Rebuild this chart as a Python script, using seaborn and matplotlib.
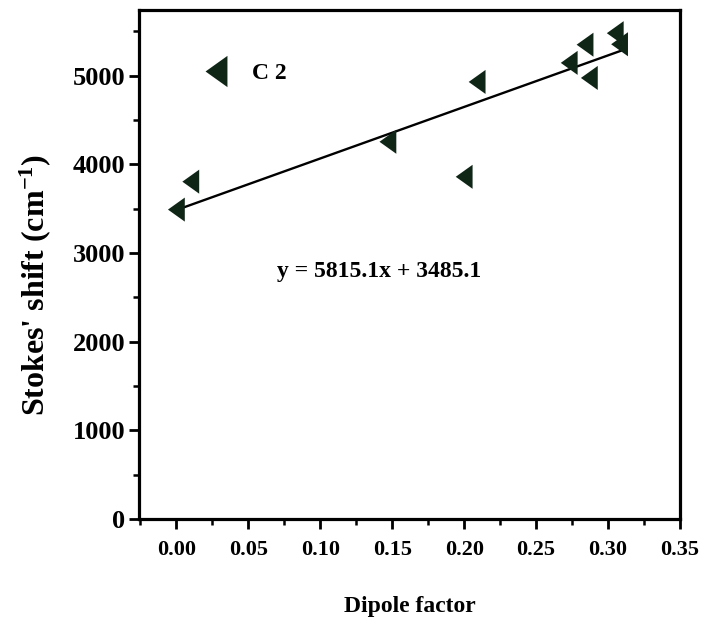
import numpy as np
import pandas as pd
import matplotlib
matplotlib.use("Agg")
import matplotlib.pyplot as plt
from matplotlib.ticker import MultipleLocator
import seaborn as sns

# Stokes' shift against solvent dipole factor for C2
dipole_factor = [0.000, 0.010, 0.147, 0.200, 0.209, 0.273, 0.284, 0.287, 0.305, 0.308]
stokes_shift = [3490, 3805, 4255, 3860, 4930, 5145, 5350, 4975, 5480, 5355]
series_name = "C 2"

# Linear fit reported on the chart
slope = 5815.1
intercept = 3485.1
fit_label = "y = 5815.1x + 3485.1"

x_ticks = [0.00, 0.05, 0.10, 0.15, 0.20, 0.25, 0.30, 0.35]
y_ticks = [0, 1000, 2000, 3000, 4000, 5000]

sns.set_style("ticks")
plt.rcParams["font.family"] = ["Liberation Serif", "DejaVu Serif"]
plt.rcParams["font.weight"] = "bold"
plt.rcParams["text.color"] = "black"
plt.rcParams["axes.labelcolor"] = "black"
plt.rcParams["xtick.color"] = "black"
plt.rcParams["ytick.color"] = "black"
plt.rcParams["mathtext.fontset"] = "custom"
plt.rcParams["mathtext.rm"] = "Liberation Serif:bold"
plt.rcParams["mathtext.it"] = "Liberation Serif:bold"
plt.rcParams["mathtext.bf"] = "Liberation Serif:bold"

mark_color = "#0f2616"
# narrow left-pointing triangle
tri = [(-0.35, 0.0), (0.35, 0.5), (0.35, -0.5), (-0.35, 0.0)]

fig = plt.figure(figsize=(7.04, 6.29), dpi=100)
ax = fig.add_axes([0.1974, 0.1749, 0.7685, 0.809])

df = pd.DataFrame({"x": dipole_factor, "y": stokes_shift, "series": series_name})
line_x = np.array([min(dipole_factor), max(dipole_factor) + 0.003])
fit_df = pd.DataFrame({"x": line_x, "y": slope * line_x + intercept})

sns.lineplot(data=fit_df, x="x", y="y", ax=ax, color="black", linewidth=1.7,
             legend=False, zorder=2)
sns.scatterplot(data=df, x="x", y="y", hue="series", palette=[mark_color],
                marker=tri, s=300, edgecolor="none", ax=ax, zorder=3)

ax.set_xlim(-0.026, 0.35)
ax.set_ylim(0, 5740)
ax.set_xticks(x_ticks)
ax.set_xticklabels([f"{t:.2f}" for t in x_ticks])
ax.set_yticks(y_ticks)
ax.xaxis.set_minor_locator(MultipleLocator(0.025))
ax.yaxis.set_minor_locator(MultipleLocator(500))

for side in ["left", "bottom", "right", "top"]:
    ax.spines[side].set_visible(True)
    ax.spines[side].set_linewidth(2.3)
    ax.spines[side].set_color("black")

ax.tick_params(which="major", direction="out", length=7, width=2, top=False, right=False,
               pad=6, color="black")
ax.tick_params(which="minor", direction="out", length=4, width=1.8, top=False, right=False,
               color="black")
ax.tick_params(axis="x", which="major", labelsize=16, pad=8)
ax.tick_params(axis="y", which="major", labelsize=19, pad=3)
for lab in ax.get_xticklabels() + ax.get_yticklabels():
    lab.set_fontweight("bold")

ax.set_xlabel("Dipole factor", fontsize=17, fontweight="bold", labelpad=26)
ax.set_ylabel("Stokes' shift (cm$^{-1}$)", fontsize=23, fontweight="bold")
ax.yaxis.set_label_coords(-0.158, 0.46)

ax.text(0.141, 2790, fit_label, fontsize=17, fontweight="bold", ha="center", va="center")

leg = ax.legend(loc="center left", bbox_to_anchor=(0.06, 0.876), frameon=False,
                fontsize=17, handletextpad=0.5, markerscale=1.3)
for t in leg.get_texts():
    t.set_fontweight("bold")

fig.savefig("out.png", dpi=100)
